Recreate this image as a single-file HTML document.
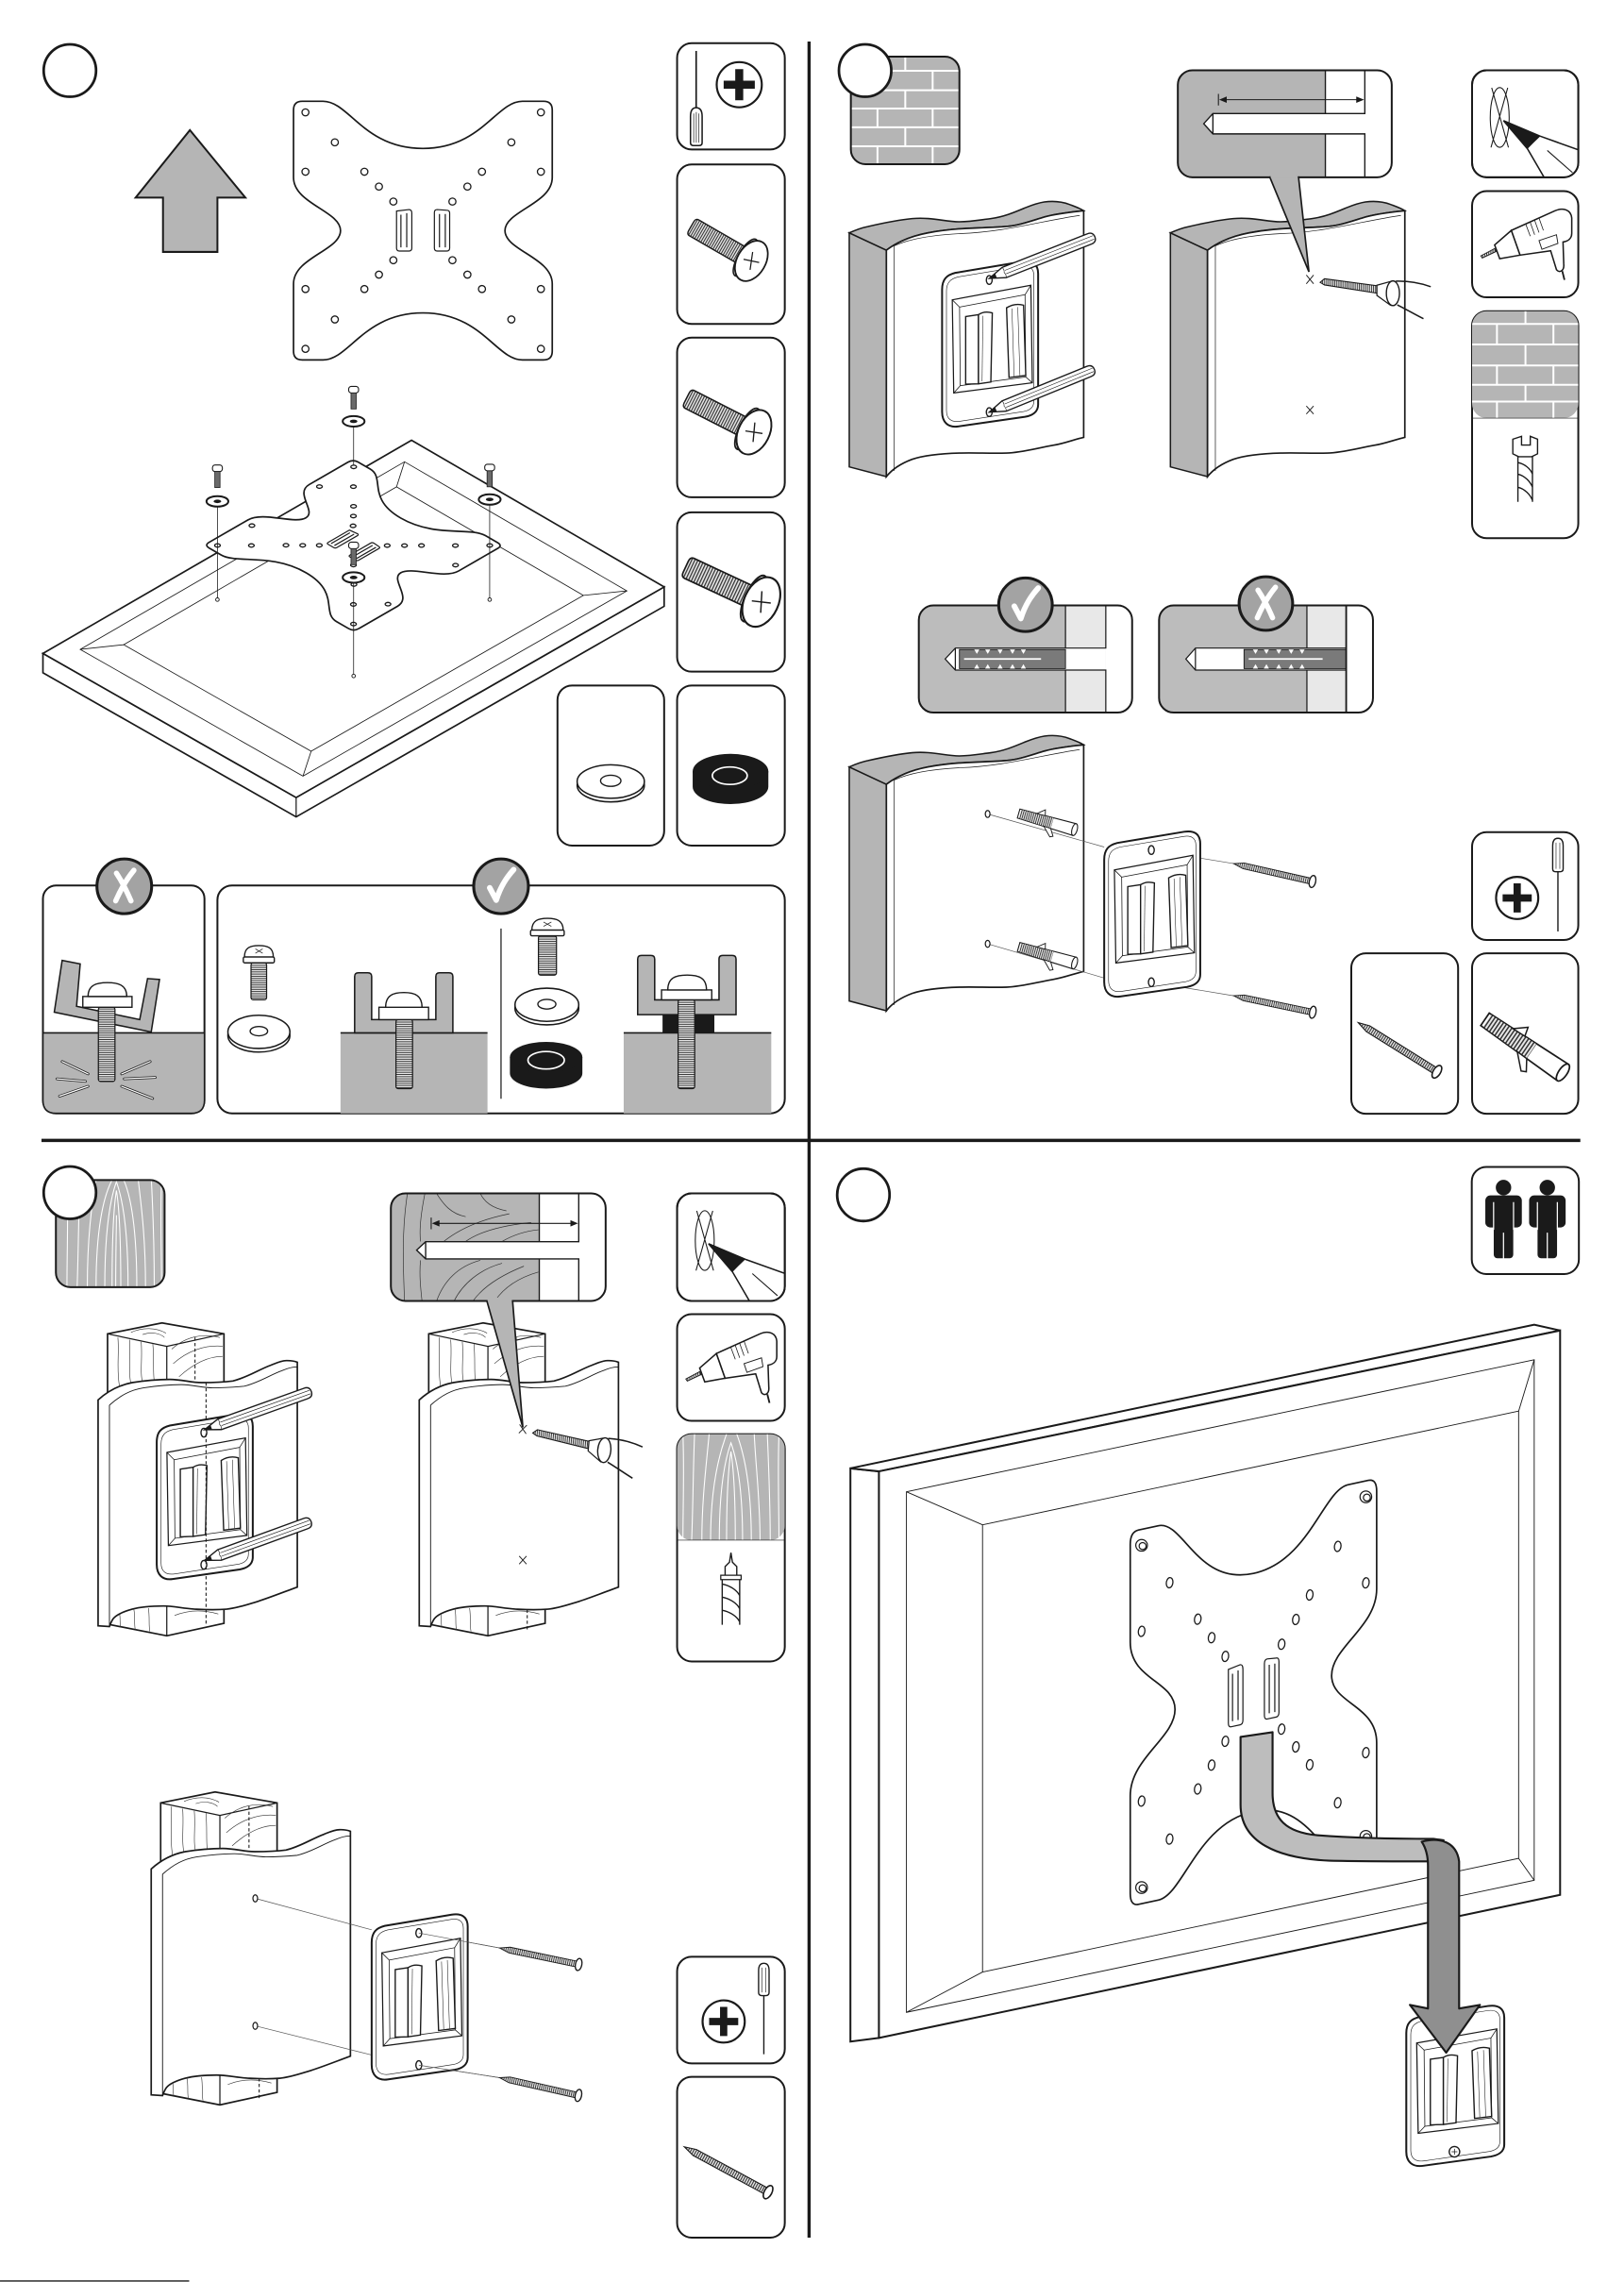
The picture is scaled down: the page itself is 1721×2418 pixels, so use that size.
<!DOCTYPE html>
<html><head><meta charset="utf-8"><title>Mounting instructions</title>
<style>html,body{margin:0;padding:0;background:#fff}svg{display:block}</style>
</head><body>
<svg xmlns="http://www.w3.org/2000/svg" width="1721" height="2418" viewBox="0 0 1116 1568">
<defs>
<pattern id="ht" width="1.4" height="8" patternUnits="userSpaceOnUse"><rect width="1.4" height="8" fill="#e6e6e6"/><rect width="0.6" height="8" fill="#333"/></pattern>
<pattern id="hh" width="8" height="1.5" patternUnits="userSpaceOnUse"><rect width="8" height="1.5" fill="#e6e6e6"/><rect width="8" height="0.6" fill="#333"/></pattern>
<clipPath id="ic"><rect x="0" y="0" width="73.5" height="73.5" rx="10"/></clipPath>

<g id="plate">
<path vector-effect="non-scaling-stroke" d="M207.7,69.6 L222,69.6 C240,69.6 250,102 290.6,102 C331,102 341,69.6 359,69.6 L373.5,69.6 Q379.5,69.6 379.5,75.6 L379.5,122 C379.5,140 347,145 347,158.5 C347,172 379.5,177 379.5,195 L379.5,241.3 Q379.5,247.3 373.5,247.3 L359,247.3 C341,247.3 331,215 290.6,215 C250,215 240,247.3 222,247.3 L207.7,247.3 Q201.7,247.3 201.7,241.3 L201.7,195 C201.7,177 234,172 234,158.5 C234,145 201.7,140 201.7,122 L201.7,75.6 Q201.7,69.6 207.7,69.6 Z" fill="#fff" stroke="#1a1a1a" stroke-width="1.7"/>
<g fill="#fff" stroke="#1a1a1a" stroke-width="1.3">
<circle vector-effect="non-scaling-stroke" cx="209.9" cy="77.2" r="2.4"/><circle vector-effect="non-scaling-stroke" cx="371.7" cy="77.2" r="2.4"/>
<circle vector-effect="non-scaling-stroke" cx="230.1" cy="97.8" r="2.4"/><circle vector-effect="non-scaling-stroke" cx="351.4" cy="97.8" r="2.4"/>
<circle vector-effect="non-scaling-stroke" cx="209.9" cy="118" r="2.4"/><circle vector-effect="non-scaling-stroke" cx="371.7" cy="118" r="2.4"/>
<circle vector-effect="non-scaling-stroke" cx="250.4" cy="118" r="2.4"/><circle vector-effect="non-scaling-stroke" cx="331.2" cy="118" r="2.4"/>
<circle vector-effect="non-scaling-stroke" cx="260.4" cy="128.2" r="2.4"/><circle vector-effect="non-scaling-stroke" cx="321.2" cy="128.2" r="2.4"/>
<circle vector-effect="non-scaling-stroke" cx="270.3" cy="138.5" r="2.4"/><circle vector-effect="non-scaling-stroke" cx="310.9" cy="138.5" r="2.4"/>
<circle vector-effect="non-scaling-stroke" cx="270.3" cy="178.8" r="2.4"/><circle vector-effect="non-scaling-stroke" cx="310.9" cy="178.8" r="2.4"/>
<circle vector-effect="non-scaling-stroke" cx="260.4" cy="188.7" r="2.4"/><circle vector-effect="non-scaling-stroke" cx="321.2" cy="188.7" r="2.4"/>
<circle vector-effect="non-scaling-stroke" cx="250.4" cy="198.6" r="2.4"/><circle vector-effect="non-scaling-stroke" cx="331.2" cy="198.6" r="2.4"/>
<circle vector-effect="non-scaling-stroke" cx="209.9" cy="198.6" r="2.4"/><circle vector-effect="non-scaling-stroke" cx="371.7" cy="198.6" r="2.4"/>
<circle vector-effect="non-scaling-stroke" cx="230.1" cy="219.5" r="2.4"/><circle vector-effect="non-scaling-stroke" cx="351.4" cy="219.5" r="2.4"/>
<circle vector-effect="non-scaling-stroke" cx="209.9" cy="239.7" r="2.4"/><circle vector-effect="non-scaling-stroke" cx="371.7" cy="239.7" r="2.4"/>
</g>
<g fill="#fff" stroke="#1a1a1a" stroke-width="1.2">
<path vector-effect="non-scaling-stroke" d="M272.5,145 L281,144 Q283,144 283,146.5 L283,170.5 Q283,172.5 281,172.5 L274.5,172.5 Q272.5,172.5 272.5,170.5 Z"/>
<path vector-effect="non-scaling-stroke" d="M275.5,147.5 L275.5,170 M279.5,146.5 L279.5,170" fill="none"/>
<path vector-effect="non-scaling-stroke" d="M298.5,146 Q298.5,144 300.5,144 L307,144.5 Q309,144.5 309,146.5 L309,170.5 Q309,172.5 307,172.5 L300.5,172.5 Q298.5,172.5 298.5,170.5 Z"/>
<path vector-effect="non-scaling-stroke" d="M302,147 L302,170 M306,147 L306,170" fill="none"/>
</g>
</g>

<g id="wall">
<path d="M583.6,160 L609.1,171.9 L609.1,327.5 L583.6,320.8 Z" fill="#b5b5b5" stroke="#1a1a1a" stroke-width="1"/>
<path d="M583.6,160 C588,158 592,156.5 596.6,155.6 C608,153 618,151 626.8,150.2 C640,149 650,152.5 659.3,152.4 C668,152.3 674,151 680.9,150.2 C690,149 698,145.5 704.7,142.7 C709,141 713,139.5 717.6,138.8 C725,137.8 731,139 735,140.5 C739,142 742,143 744.7,144.8 C738,145.5 727,146.5 717.6,149.1 C708,152 700,155 691.7,155.6 C683,156.2 677,156.5 670,156.7 C660,157 648,158 637.6,160 C627,162 617,166 609.1,171.9 Z" fill="#b5b5b5" stroke="#1a1a1a" stroke-width="1"/>
<path d="M609.1,171.9 C617,166 627,162 637.6,160 C648,158 660,157 670,156.7 C677,156.5 683,156.2 691.7,155.6 C700,155 708,152 717.6,149.1 C727,146.5 738,145.5 744.7,144.8 L744.7,300.5 C738,302 732,304.5 724.1,305.9 C712,308 702,311 691.7,311.3 C680,311.6 670,311 659.3,311.3 C648,311.6 636,312.5 626.8,315.6 C619,318.5 613,322.5 609.1,327.5 Z" fill="#fff" stroke="#1a1a1a" stroke-width="1.1"/>
<path d="M614.5,169 L614.5,323.5 M614.5,169 C625,164 640,161.5 660,160.5 C690,159.5 715,152 742,148" fill="none" stroke="#1a1a1a" stroke-width="0.45"/>
</g>

<g id="bracket">
<path d="M0,20 C0,13 3,10 9,8.5 L55,0.8 C62,-0.3 66,2.5 66,9 L66,99 C66,104 62,106.5 57,107.4 L11,114 C4,115 0,111 0,104 Z" fill="#fff" stroke="#1a1a1a" stroke-width="1.3"/>
<path d="M3,21 C3,15 6,12.5 11,11.3 L55,4 C60,3.2 63,5.5 63,10 L63,97 C63,101 60,103 56,103.8 L12,110.5 C6,111.3 3,108.5 3,103 Z" fill="none" stroke="#1a1a1a" stroke-width="0.4"/>
<path d="M7,27 L61,17 L62,84 L8,91 Z" fill="#fff" stroke="#1a1a1a" stroke-width="0.8"/>
<path d="M12,32 L57,23.5 L57.5,80 L12.5,86 Z" fill="none" stroke="#1a1a1a" stroke-width="0.5"/>
<path d="M7,27 L12,32 M61,17 L57,23.5 M62,84 L57.5,80 M8,91 L12.5,86" stroke="#1a1a1a" stroke-width="0.5"/>
<path d="M16.2,38.5 L25,37.2 L25,84.7 L16.2,85 Z" fill="#fff" stroke="#1a1a1a" stroke-width="0.9"/>
<path d="M25,37.2 Q29,34.5 34.5,36 L33.5,83.5 L25,84.7 Z" fill="#fff" stroke="#1a1a1a" stroke-width="0.9"/>
<path d="M28,38 L27.5,83" stroke="#1a1a1a" stroke-width="0.35"/>
<path d="M44.3,32.5 Q50,29 56,30.7 L57.5,79 L46,80.4 Z" fill="#fff" stroke="#1a1a1a" stroke-width="0.9"/>
<path d="M48,33 L49.5,79.5 M52,32 L53.5,79" stroke="#1a1a1a" stroke-width="0.35"/>
<ellipse cx="32.4" cy="13.4" rx="2" ry="3" fill="#fff" stroke="#1a1a1a" stroke-width="0.9"/>
<ellipse cx="32.4" cy="104.2" rx="2" ry="3" fill="#fff" stroke="#1a1a1a" stroke-width="0.9"/>
</g>

<g id="pencil">
<path d="M0,0 L11,-3.8 L74,-3.8 Q78,-3.8 78,0 Q78,3.8 74,3.8 L11,3.8 Z" fill="#fff" stroke="#1a1a1a" stroke-width="0.9"/>
<path d="M11,-3.8 Q12,-2 11,0 Q12,2 11,3.8 M12,-1.2 L77,-1.2 M12,1.3 L77,1.3" fill="none" stroke="#1a1a1a" stroke-width="0.4"/>
<path d="M0,0 L5,-1.8 L5,1.8 Z" fill="#1a1a1a"/>
</g>

<g id="wscrew">
<path d="M0,0 L7,-2 L54,-2 L54,2 L7,2 Z" fill="url(#ht)" stroke="#1a1a1a" stroke-width="0.6"/>
<ellipse cx="55.5" cy="0" rx="2.2" ry="4.2" fill="#fff" stroke="#1a1a1a" stroke-width="0.9"/>
</g>

<g id="dowel">
<path d="M0,-3.2 L40,-4.2 L40,4.2 L0,3.2 Z" fill="#fff" stroke="#1a1a1a" stroke-width="0.7"/>
<path d="M1,-3 L24,-3.6 L24,3.6 L1,3 Z" fill="url(#ht)"/>
<path d="M19,3.6 L25,9.5 L27,8.5 L24,3.8 Z M12,-3.4 L17,-7.5 L18,-3.6 Z" fill="#fff" stroke="#1a1a1a" stroke-width="0.6"/>
<ellipse cx="40" cy="0" rx="1.8" ry="4.2" fill="#fff" stroke="#1a1a1a" stroke-width="0.7"/>
</g>

<g id="micon">
<path d="M1,-5.5 L34,-5.5 L34,5.5 L1,5.5 Q-1,5.5 -1,3 L-1,-3 Q-1,-5.5 1,-5.5 Z" fill="url(#ht)" stroke="#1a1a1a" stroke-width="0.8"/>
<ellipse cx="36.5" cy="0" rx="4.5" ry="12.5" fill="#fff" stroke="#1a1a1a" stroke-width="0.9"/>
<ellipse cx="40.5" cy="0" rx="8.5" ry="13" fill="#fff" stroke="#1a1a1a" stroke-width="1"/>
<path d="M38.5,-5 L42.5,5 M36,1.5 L45,-1.5" stroke="#1a1a1a" stroke-width="0.7"/>
</g>

<g id="mscrew">
<rect x="-3.4" y="-5" width="6.8" height="4.5" rx="1.8" fill="#fff" stroke="#1a1a1a" stroke-width="0.7"/>
<rect x="-1.8" y="-0.5" width="3.6" height="11" fill="#6a6a6a" stroke="#1a1a1a" stroke-width="0.5"/>
</g>

<g id="drill">
<path d="M-2.5,-3 L2.5,3 M-2.5,3 L2.5,-3" stroke="#1a1a1a" stroke-width="0.6"/>
<path d="M7,2 L10,-0.5 L47,4.5 L46.5,9.5 L10,3.8 Z" fill="url(#ht)" stroke="#1a1a1a" stroke-width="0.7"/>
<path d="M46,4 L55,1.5 L55,17.5 L46,11 Z" fill="#fff" stroke="#1a1a1a" stroke-width="0.8"/>
<ellipse cx="57" cy="9.5" rx="4.5" ry="8.5" fill="#fff" stroke="#1a1a1a" stroke-width="0.9"/>
<path d="M59,1.2 C68,1 76,2.5 83,5 M60,17.5 C67,21 72,24 78,27" fill="none" stroke="#1a1a1a" stroke-width="1"/>
</g>

<g id="postboard">
<path d="M73.9,916.5 L111.3,909 L153.9,916.5 L153.9,1115.4 L114.6,1124 L73.9,1116 Z" fill="#fff" stroke="#1a1a1a" stroke-width="1.1"/>
<path d="M73.9,916.5 L114.6,925.1 L153.9,916.5 M114.6,925.1 L114.6,1124" fill="none" stroke="#1a1a1a" stroke-width="0.8"/>
<g fill="none" stroke="#333" stroke-width="0.4">
<path d="M81,919 C82,930 80,940 82,952 M89,920.5 C90,932 88,942 90,951 M97,922 C98,933 96,943 98,950 M105,923.5 C106,934 105,943 106,949"/>
<path d="M118,927 C128,918 140,916 151,919 M119,937 C129,928 141,924 153,925 M123,946 C133,937 143,932 153,932"/>
<path d="M90,915.5 C98,912 107,912 114,916 M98,917 C104,915 110,916 113,919"/>
<path d="M82,1108 C83,1112 82,1115 83,1118 M92,1106 C93,1111 92,1116 93,1120 M102,1105 C103,1112 102,1117 103,1121 M120,1110 C130,1106 140,1106 150,1109"/>
</g>
<path d="M67.4,961.9 C75,955 83,951.5 90.8,950 C100,948.5 108,947.8 116.7,947.8 C125,947.8 131,950 138.4,950 C146,950 153,949.8 160,948.9 C170,946.5 178,941 186,938.1 C190,936.5 193,935 196.7,934.9 C200,934.8 202.5,935.3 204.3,936 L204.3,1090.5 C196,1093.5 186,1097.5 177.3,1100.3 C170,1102.5 163,1105 155.7,1105.7 C146,1106.5 140,1106 133,1105.6 C125,1105 119,1103.5 112.4,1103.5 C105,1103.5 97,1104 90.8,1105.7 C85,1107.3 80,1109.5 77.8,1112.2 C76.5,1114 75.8,1116 75.2,1117.6 L67.4,1117.1 Z" fill="#fff" stroke="#1a1a1a" stroke-width="1.1"/>
<path d="M75.2,965.5 C83,958.5 90,955 98.6,953.6 C108,952.2 116,951.4 124.5,951.4 C132,951.4 139,953.6 146.2,953.6 C154,953.6 160,953.2 167.8,952.5 C178,950 186,944.5 194,941.7 C198,940 201,939 204.3,939.3 M75.2,965.5 L75.2,1117.6" fill="none" stroke="#1a1a1a" stroke-width="0.6"/>
</g>
</defs>

<rect width="1116" height="1568" fill="#fff"/>

<!-- dividers -->
<path d="M556,28.5 L556,1537.5" stroke="#1a1a1a" stroke-width="2.2"/>
<path d="M28.5,783.6 L1086,783.6" stroke="#1a1a1a" stroke-width="2.2"/>
<path d="M0,1567.3 L130,1567.3" stroke="#1a1a1a" stroke-width="0.9"/>

<!-- ================= PANEL 1 ================= -->
<circle cx="48" cy="48.5" r="18" fill="#fff" stroke="#1a1a1a" stroke-width="1.8"/>
<polygon points="130.5,89.4 168.6,135.8 149.4,135.8 149.4,173.1 112,173.1 112,135.8 93.2,135.8" fill="#b5b5b5" stroke="#1a1a1a" stroke-width="1.3"/>
<use href="#plate"/>

<!-- TV flat -->
<path d="M29.5,449 L203.5,548 L456.4,403.3 L456.4,416.6 L203.5,561.3 L29.5,462.3 Z" fill="#fff" stroke="#1a1a1a" stroke-width="1.1"/>
<path d="M203.5,548 L203.5,561.3" stroke="#1a1a1a" stroke-width="0.8"/>
<path d="M29.5,449 L282.8,302.5 L456.4,403.3 L203.5,548 Z" fill="#fff" stroke="#1a1a1a" stroke-width="1.1"/>
<g fill="none" stroke="#1a1a1a" stroke-width="0.55">
<path d="M55.1,446.2 L278,317.3 L430.8,406 L208.2,533.3 Z"/>
<path d="M85,443 L272.5,334.5 L400.9,409.1 L213.8,516.2 Z"/>
<path d="M55.1,446.2 L85,443 M278,317.3 L272.5,334.5 M430.8,406 L400.9,409.1 M208.2,533.3 L213.8,516.2"/>
</g>
<use href="#plate" transform="matrix(0.5779,0.3337,-0.576,0.3323,166.2,225.1)"/>
<g stroke="#1a1a1a" stroke-width="0.5" fill="none">
<path d="M243,293 L243,320 M149.4,348 L149.4,411 M336.5,347 L336.5,411 M243,400.5 L243,463"/>
</g>
<g fill="#fff" stroke="#1a1a1a" stroke-width="0.6">
<circle cx="149.4" cy="412" r="1.2"/><circle cx="336.5" cy="412" r="1.2"/><circle cx="243" cy="464.5" r="1.2"/>
</g>
<use href="#mscrew" transform="translate(243,270.5)"/>
<use href="#mscrew" transform="translate(149.4,324.5)"/>
<use href="#mscrew" transform="translate(336.5,324)"/>
<use href="#mscrew" transform="translate(243,377.5)"/>
<g fill="#fff" stroke="#1a1a1a" stroke-width="1.3">
<ellipse cx="243" cy="289.5" rx="7.5" ry="3.6"/><ellipse cx="149.4" cy="344.5" rx="7.5" ry="3.6"/>
<ellipse cx="336.5" cy="343.2" rx="7.5" ry="3.6"/><ellipse cx="243" cy="396.8" rx="7.5" ry="3.6"/>
</g>
<g fill="#1a1a1a">
<ellipse cx="243" cy="289.5" rx="2.6" ry="1.2"/><ellipse cx="149.4" cy="344.5" rx="2.6" ry="1.2"/>
<ellipse cx="336.5" cy="343.2" rx="2.6" ry="1.2"/><ellipse cx="243" cy="396.8" rx="2.6" ry="1.2"/>
</g>

<!-- right column boxes panel 1 -->
<g fill="#fff" stroke="#1a1a1a" stroke-width="1.3">
<rect x="465.3" y="29.7" width="74" height="73" rx="10"/>
<rect x="465.3" y="113" width="74" height="109.6" rx="10"/>
<rect x="465.3" y="232" width="74" height="109.7" rx="10"/>
<rect x="465.3" y="352" width="74" height="109.5" rx="10"/>
<rect x="383.1" y="471" width="73.3" height="110" rx="10"/>
<rect x="465.3" y="471" width="74" height="110" rx="10"/>
</g>
<path d="M478.4,35 L478.4,74" stroke="#1a1a1a" stroke-width="1.1"/>
<path d="M474.5,80 Q474.5,74 478.4,74 Q482.5,74 482.5,80 L482.5,98 Q482.5,100 480.5,100 L476.5,100 Q474.5,100 474.5,98 Z" fill="#fff" stroke="#1a1a1a" stroke-width="1"/>
<path d="M476.7,78 L476.7,98 M478.5,77 L478.5,98 M480.3,78 L480.3,98" stroke="#1a1a1a" stroke-width="0.45"/>
<circle cx="508" cy="58.2" r="15.5" fill="#fff" stroke="#1a1a1a" stroke-width="1.4"/>
<path d="M508,47.5 L508,68.9 M497.3,58.2 L518.7,58.2" stroke="#1a1a1a" stroke-width="5.5"/>
<use href="#micon" transform="translate(476,156) rotate(30) scale(1.15)"/>
<use href="#micon" transform="translate(473,274) rotate(27) scale(1.25)"/>
<use href="#micon" transform="translate(472.5,390) rotate(25) scale(1.38)"/>
<!-- washer icon -->
<ellipse cx="419.7" cy="539.5" rx="23.1" ry="11.5" fill="#fff" stroke="#1a1a1a" stroke-width="1"/>
<ellipse cx="419.7" cy="537" rx="23.1" ry="11.5" fill="#fff" stroke="#1a1a1a" stroke-width="1"/>
<ellipse cx="419.7" cy="536.5" rx="7" ry="3.8" fill="#fff" stroke="#1a1a1a" stroke-width="0.9"/>
<!-- black washer icon -->
<path d="M476,530 L476,540.5 A26,12 0 0 0 528,540.5 L528,530 Z" fill="#1a1a1a"/>
<ellipse cx="502" cy="530" rx="26" ry="12" fill="#1a1a1a"/>
<ellipse cx="501.5" cy="533" rx="12" ry="6" fill="#1a1a1a" stroke="#fff" stroke-width="1.1"/>

<!-- wash comparison -->
<rect x="29.5" y="608.4" width="111" height="156.6" rx="9" fill="#fff" stroke="#1a1a1a" stroke-width="1.3"/>
<path d="M29.5,709.7 L140.5,709.7 L140.5,756 Q140.5,765 131.5,765 L38.5,765 Q29.5,765 29.5,756 Z" fill="#b5b5b5" stroke="#1a1a1a" stroke-width="1"/>
<g stroke="#1a1a1a" stroke-width="1.8" stroke-linecap="round" fill="none">
<path d="M42.7,729.4 L60.5,737.9 M39.1,741.3 L58.7,743 M40.9,753.2 L60.5,746.4 M83.6,737.9 L103.2,729.4 M85.4,741.3 L106.7,740.3 M83.6,746.4 L104.9,754.8"/>
</g>
<g stroke="#fff" stroke-width="0.8" stroke-linecap="round" fill="none">
<path d="M42.7,729.4 L60.5,737.9 M39.1,741.3 L58.7,743 M40.9,753.2 L60.5,746.4 M83.6,737.9 L103.2,729.4 M85.4,741.3 L106.7,740.3 M83.6,746.4 L104.9,754.8"/>
</g>
<path d="M42.7,659.9 L55.1,662.3 L52.6,691.4 L96,700.6 L101.4,672.4 L109.6,673 L103.9,709.1 L37.3,695.5 Z" fill="#b5b5b5" stroke="#1a1a1a" stroke-width="1"/>
<rect x="67.6" y="692.1" width="11.4" height="51" rx="1.5" fill="url(#hh)" stroke="#1a1a1a" stroke-width="0.8"/>
<rect x="56.9" y="684.7" width="33.8" height="7.4" fill="#fff" stroke="#1a1a1a" stroke-width="0.9"/>
<path d="M60.5,684.7 C60.5,677 66,675.2 73.8,675.2 C81.6,675.2 87.1,677 87.1,684.7 Z" fill="#fff" stroke="#1a1a1a" stroke-width="0.9"/>

<rect x="149.4" y="608.4" width="389.9" height="156.6" rx="10" fill="#fff" stroke="#1a1a1a" stroke-width="1.3"/>
<path d="M344.3,638 L344.3,755" stroke="#1a1a1a" stroke-width="0.8"/>
<!-- screw 1 + washer -->
<rect x="172.5" y="661.6" width="10.7" height="25.4" rx="1.5" fill="url(#hh)" stroke="#1a1a1a" stroke-width="0.8"/>
<rect x="167.2" y="657.5" width="21.3" height="4.1" rx="1" fill="#fff" stroke="#1a1a1a" stroke-width="0.9"/>
<path d="M168,657.5 C168,651 172,649.7 177.9,649.7 C183.8,649.7 187.8,651 187.8,657.5 Z" fill="#fff" stroke="#1a1a1a" stroke-width="0.9"/>
<path d="M175.5,652 L180.5,655 M180.5,652 L175.5,655" stroke="#1a1a1a" stroke-width="0.5"/>
<ellipse cx="177.9" cy="711.5" rx="21.3" ry="11.4" fill="#fff" stroke="#1a1a1a" stroke-width="1"/>
<ellipse cx="177.9" cy="709" rx="21.3" ry="11.4" fill="#fff" stroke="#1a1a1a" stroke-width="1"/>
<ellipse cx="177.9" cy="708.5" rx="6" ry="3.2" fill="#fff" stroke="#1a1a1a" stroke-width="0.9"/>
<!-- mounted 1 -->
<rect x="234" y="709.7" width="101" height="55.3" fill="#b5b5b5"/>
<path d="M234,709.7 L335,709.7" stroke="#1a1a1a" stroke-width="1"/>
<path d="M243.7,671 Q243.7,668.4 246.3,668.4 L252.8,668.4 Q255.4,668.4 255.4,671 L255.4,700.6 L299.5,700.6 L299.5,671 Q299.5,668.4 302,668.4 L308.6,668.4 Q311.2,668.4 311.2,671 L311.2,709.7 L243.7,709.7 Z" fill="#b5b5b5" stroke="#1a1a1a" stroke-width="1"/>
<rect x="272.1" y="700.6" width="11.4" height="47.4" rx="1.5" fill="url(#hh)" stroke="#1a1a1a" stroke-width="0.8"/>
<rect x="260.4" y="692.1" width="34.1" height="8.5" fill="#fff" stroke="#1a1a1a" stroke-width="0.9"/>
<path d="M265,692.1 C265,684 270,682 277.5,682 C285,682 290,684 290,692.1 Z" fill="#fff" stroke="#1a1a1a" stroke-width="0.9"/>
<!-- screw 2 + washer + spacer -->
<rect x="370" y="643" width="12.4" height="27" rx="1.5" fill="url(#hh)" stroke="#1a1a1a" stroke-width="0.8"/>
<rect x="364.6" y="639" width="23.1" height="4" rx="1" fill="#fff" stroke="#1a1a1a" stroke-width="0.9"/>
<path d="M365.5,639 C365.5,632.5 370,631 376.2,631 C382.4,631 387,632.5 387,639 Z" fill="#fff" stroke="#1a1a1a" stroke-width="0.9"/>
<path d="M373.5,633.5 L378.9,636.5 M378.9,633.5 L373.5,636.5" stroke="#1a1a1a" stroke-width="0.5"/>
<ellipse cx="375.8" cy="692.8" rx="21.9" ry="11.4" fill="#fff" stroke="#1a1a1a" stroke-width="1"/>
<ellipse cx="375.8" cy="690.4" rx="21.9" ry="11.4" fill="#fff" stroke="#1a1a1a" stroke-width="1"/>
<ellipse cx="375.8" cy="690" rx="6.2" ry="3.3" fill="#fff" stroke="#1a1a1a" stroke-width="0.9"/>
<path d="M350.4,726.4 L350.4,737.5 A24.9,10.5 0 0 0 400.2,737.5 L400.2,726.4 Z" fill="#1a1a1a"/>
<ellipse cx="375.3" cy="726.4" rx="24.9" ry="10.5" fill="#1a1a1a"/>
<ellipse cx="375.3" cy="728.5" rx="12.5" ry="6" fill="#1a1a1a" stroke="#fff" stroke-width="1.1"/>
<!-- mounted 2 -->
<rect x="428.6" y="709.7" width="101.4" height="55.3" fill="#b5b5b5"/>
<path d="M428.6,709.7 L530,709.7" stroke="#1a1a1a" stroke-width="1"/>
<rect x="455.3" y="697.2" width="35.6" height="12.5" fill="#1a1a1a"/>
<path d="M438.2,659 Q438.2,656.5 440.8,656.5 L447.3,656.5 Q449.9,656.5 449.9,659 L449.9,687 L494.1,687 L494.1,659 Q494.1,656.5 496.6,656.5 L503.2,656.5 Q505.8,656.5 505.8,659 L505.8,697.2 L438.2,697.2 Z" fill="#b5b5b5" stroke="#1a1a1a" stroke-width="1"/>
<rect x="466" y="687" width="11.4" height="61" rx="1.5" fill="url(#hh)" stroke="#1a1a1a" stroke-width="0.8"/>
<rect x="454.6" y="680.2" width="34.5" height="6.8" fill="#fff" stroke="#1a1a1a" stroke-width="0.9"/>
<path d="M458.9,680.2 C458.9,672 464,670 472.2,670 C480.4,670 485.5,672 485.5,680.2 Z" fill="#fff" stroke="#1a1a1a" stroke-width="0.9"/>
<!-- badges -->
<circle cx="85.4" cy="609" r="18.8" fill="#a3a3a3" stroke="#1a1a1a" stroke-width="2"/>
<path d="M79.5,619 C83,611 87,604 92,598 M80,600 C84,606 87,612 90,619" fill="none" stroke="#fff" stroke-width="3.6" stroke-linecap="round"/>
<circle cx="344.3" cy="609" r="18.8" fill="#a3a3a3" stroke="#1a1a1a" stroke-width="2"/>
<path d="M336.5,610 L341,618.5 C344,609 348,603 353,597.5" fill="none" stroke="#fff" stroke-width="3.8" stroke-linecap="round" stroke-linejoin="round"/>

<!-- ================= PANEL 2 ================= -->
<g>
<rect x="584.7" y="38.9" width="74.6" height="73.9" rx="10" fill="#b5b5b5"/>
<g stroke="#fff" stroke-width="1.3" fill="none">
<path d="M584.7,48.6 L659.3,48.6 M584.7,62 L659.3,62 M584.7,74.6 L659.3,74.6 M584.7,87.5 L659.3,87.5 M584.7,100.5 L659.3,100.5"/>
<path d="M622.1,38.9 V48.6 M640.9,48.6 V62 M603,48.6 V62 M622.1,62 V74.6 M603,74.6 V87.5 M640.9,74.6 V87.5 M622.1,87.5 V100.5 M603,100.5 V112.8 M640.9,100.5 V112.8"/>
</g>
<rect x="584.7" y="38.9" width="74.6" height="73.9" rx="10" fill="none" stroke="#1a1a1a" stroke-width="1.3"/>
</g>
<circle cx="594.5" cy="48.5" r="18" fill="#fff" stroke="#1a1a1a" stroke-width="1.8"/>

<!-- wall 1 -->
<use href="#wall"/>
<use href="#bracket" transform="translate(647.4,179)"/>
<use href="#pencil" transform="translate(679.8,191.3) rotate(-21.5)"/>
<use href="#pencil" transform="translate(679.8,283.2) rotate(-22.2)"/>

<!-- wall 2 -->
<use href="#wall" transform="translate(220.7,0)"/>
<use href="#drill" transform="translate(900.2,192)"/>
<path d="M897.7,279 L902.7,284.5 M897.7,284.5 L902.7,279" stroke="#1a1a1a" stroke-width="0.6"/>

<!-- callout panel 2 -->
<clipPath id="cp2"><rect x="809.4" y="48.3" width="147" height="73.5" rx="10"/></clipPath>
<g clip-path="url(#cp2)">
<rect x="809.4" y="48.3" width="147" height="73.5" fill="#b5b5b5"/>
<rect x="910.8" y="48.3" width="47" height="73.5" fill="#fff"/>
<path d="M827.2,85 L833.5,78 L937.9,78 L937.9,92 L833.5,92 Z" fill="#fff"/>
<path d="M937.9,48.3 L937.9,78 L833.5,78 L827.2,85 L833.5,92 L937.9,92 L937.9,121.8 M910.8,48.3 L910.8,78 M910.8,92 L910.8,121.8 M833.5,78 L833.5,92" fill="none" stroke="#1a1a1a" stroke-width="0.9"/>
<path d="M840,68.5 L935,68.5 M837.3,64.5 L837.3,72.5" stroke="#1a1a1a" stroke-width="0.7"/>
<path d="M837.8,68.5 L843,66.3 L843,70.7 Z M937.4,68.5 L932,66.3 L932,70.7 Z" fill="#1a1a1a"/>
</g>
<rect x="809.4" y="48.3" width="147" height="73.5" rx="10" fill="none" stroke="#1a1a1a" stroke-width="1.3"/>
<path d="M872.4,121.2 L899.5,186.8 L892.3,121.2" fill="#b5b5b5" stroke="#1a1a1a" stroke-width="1.1"/>
<rect x="873.4" y="119.5" width="18" height="3" fill="#b5b5b5"/>

<!-- icons panel 2 -->
<g fill="#fff" stroke="#1a1a1a" stroke-width="1.3">
<rect x="1011.6" y="48.3" width="73" height="73.5" rx="10"/>
<rect x="1011.6" y="131.3" width="73" height="73" rx="10"/>
<rect x="1011.6" y="213.8" width="73" height="156" rx="10"/>
</g>
<g transform="translate(1011.6,48.3)">
<g clip-path="url(#ic)">
<ellipse cx="19" cy="32.4" rx="6.5" ry="20.5" fill="none" stroke="#1a1a1a" stroke-width="0.7"/>
<path d="M13.5,12 L25,53 M24.5,12 L13,53" stroke="#1a1a1a" stroke-width="0.7"/>
<path d="M21.6,34.6 L46.9,45.3 L88,60 L88,95 L62,95 L38.1,54 Z" fill="#fff" stroke="#1a1a1a" stroke-width="1"/>
<path d="M21.6,34.6 L46.9,45.3 L42,50 L38.1,54 Z" fill="#1a1a1a"/>
<path d="M51.7,55.1 L69,70.3" stroke="#1a1a1a" stroke-width="0.7"/>
</g>
<rect x="0" y="0" width="73" height="73.5" rx="10" fill="none" stroke="#1a1a1a" stroke-width="1.3"/>
</g>
<g transform="translate(1011.6,131.3)">
<path d="M6,44.5 L15.5,39.5 L16.5,41.5 L7,46 Z" fill="url(#ht)" stroke="#1a1a1a" stroke-width="0.6"/>
<path d="M15.5,37 L27,27 L33,44 L19,46.5 Z" fill="#fff" stroke="#1a1a1a" stroke-width="1"/>
<path d="M27,27 L57,13.5 C63,11 68,13 68.5,18.5 L68.5,29 C68.5,32.5 66,34.5 62.5,35 L63,50 C63.5,55 60,56.5 58,54 L54,41 L33,44 Z" fill="#fff" stroke="#1a1a1a" stroke-width="1"/>
<path d="M62,55 L63.5,61" stroke="#1a1a1a" stroke-width="1.2"/>
<path d="M37,23 L40,31 M40,21.5 L43,30 M43,20 L46,28.5 M46,18.5 L49,27" stroke="#1a1a1a" stroke-width="0.5"/>
<path d="M46,34 L58,30 L59,36 L48,40 Z" fill="none" stroke="#1a1a1a" stroke-width="0.6"/>
</g>
<g transform="translate(1011.6,213.8)">
<clipPath id="bk"><rect x="0" y="0" width="73" height="73.5" rx="10"/></clipPath>
<g clip-path="url(#bk)">
<rect x="0" y="0" width="73" height="73.5" fill="#b5b5b5"/>
<g stroke="#fff" stroke-width="1.3" fill="none">
<path d="M0,8.8 H73 M0,22.9 H73 M0,37.3 H73 M0,50.6 H73 M0,62.1 H73"/>
<path d="M36.7,0 V8.8 M17.1,8.8 V22.9 M55.9,8.8 V22.9 M36.7,22.9 V37.3 M17.1,37.3 V50.6 M55.9,37.3 V50.6 M36.7,50.6 V62.1 M17.1,62.1 V73.5 M55.9,62.1 V73.5"/>
</g>
</g>
<path d="M0,73.5 H73" stroke="#1a1a1a" stroke-width="0.4"/>
<path d="M28,88 L34,86 L34,92 L40,92 L40,86 L45,88 L45,98 L41,100 L32,100 L28,98 Z" fill="#fff" stroke="#1a1a1a" stroke-width="0.9"/>
<path d="M31.5,100 L31.5,131 M41.5,100 L41.5,131 M31.5,104 C36,105 40,108 41.5,112 M31.5,112 C36,113 40,117 41.5,121 M31.5,121 C36,122 40,126 41.5,130" fill="none" stroke="#1a1a1a" stroke-width="0.9"/>
</g>

<!-- anchor comparison -->
<clipPath id="ca1"><rect x="631.4" y="416" width="146.6" height="73.6" rx="10"/></clipPath>
<g clip-path="url(#ca1)">
<rect x="631.4" y="416" width="147" height="74" fill="#bcbcbc"/>
<rect x="732.2" y="416" width="27.7" height="74" fill="#e8e8e8"/>
<rect x="759.9" y="416" width="20" height="74" fill="#fff"/>
<path d="M649.5,452.8 L656.5,445.3 L759.9,445.3 L759.9,460.4 L656.5,460.4 Z" fill="#fff"/>
<path d="M659.3,446.3 L732.2,446.3 L732.2,459.4 L659.3,459.4 Z" fill="#7a7a7a" stroke="#1a1a1a" stroke-width="0.6"/>
<g fill="#fff"><path d="M669.5,446.3 L673,446.3 L671.3,449.3 Z M677,446.3 L680.5,446.3 L678.8,449.3 Z M685.5,446.3 L689,446.3 L687.3,449.3 Z M694,446.3 L697.5,446.3 L695.8,449.3 Z M701.5,446.3 L705,446.3 L703.3,449.3 Z"/>
<path d="M669.5,459.4 L673,459.4 L671.3,456.4 Z M677,459.4 L680.5,459.4 L678.8,456.4 Z M685.5,459.4 L689,459.4 L687.3,456.4 Z M694,459.4 L697.5,459.4 L695.8,456.4 Z M701.5,459.4 L705,459.4 L703.3,456.4 Z"/></g>
<path d="M662.5,452.8 L715.4,452.8" stroke="#fff" stroke-width="1.1"/>
<path d="M732.2,416 V445.3 M732.2,460.4 V490 M759.9,416 V445.3 L656.5,445.3 L649.5,452.8 L656.5,460.4 L759.9,460.4 V490 M656.5,445.3 V460.4" fill="none" stroke="#1a1a1a" stroke-width="0.8"/>
</g>
<rect x="631.4" y="416" width="146.6" height="73.6" rx="10" fill="none" stroke="#1a1a1a" stroke-width="1.3"/>
<circle cx="704.7" cy="415.5" r="18.4" fill="#a3a3a3" stroke="#1a1a1a" stroke-width="2"/>
<path d="M697,416.5 L701.5,425 C704.5,415.5 708.5,409.5 713.5,404" fill="none" stroke="#fff" stroke-width="3.8" stroke-linecap="round" stroke-linejoin="round"/>

<clipPath id="ca2"><rect x="796.5" y="416" width="147" height="73.6" rx="10"/></clipPath>
<g clip-path="url(#ca2)">
<rect x="796.5" y="416" width="147" height="74" fill="#bcbcbc"/>
<rect x="898.1" y="416" width="27" height="74" fill="#e8e8e8"/>
<rect x="925.1" y="416" width="20" height="74" fill="#fff"/>
<path d="M814.9,452.8 L821.5,445.3 L925.1,445.3 L925.1,460.4 L821.5,460.4 Z" fill="#fff"/>
<path d="M854.9,446.3 L925.1,446.3 L925.1,459.4 L854.9,459.4 Z" fill="#7a7a7a" stroke="#1a1a1a" stroke-width="0.6"/>
<g fill="#fff"><path d="M861,446.3 L864.5,446.3 L862.8,449.3 Z M868.5,446.3 L872,446.3 L870.3,449.3 Z M877,446.3 L880.5,446.3 L878.8,449.3 Z M885.5,446.3 L889,446.3 L887.3,449.3 Z M893,446.3 L896.5,446.3 L894.8,449.3 Z"/>
<path d="M861,459.4 L864.5,459.4 L862.8,456.4 Z M868.5,459.4 L872,459.4 L870.3,456.4 Z M877,459.4 L880.5,459.4 L878.8,456.4 Z M885.5,459.4 L889,459.4 L887.3,456.4 Z M893,459.4 L896.5,459.4 L894.8,456.4 Z"/></g>
<path d="M858.1,452.8 L908.9,452.8" stroke="#fff" stroke-width="1.1"/>
<path d="M898.1,416 V445.3 M898.1,460.4 V490 M925.1,445.3 L821.5,445.3 L814.9,452.8 L821.5,460.4 L925.1,460.4 M821.5,445.3 V460.4" fill="none" stroke="#1a1a1a" stroke-width="0.8"/>
<path d="M925.1,416 V490" stroke="#1a1a1a" stroke-width="1.2"/>
</g>
<rect x="796.5" y="416" width="147" height="73.6" rx="10" fill="none" stroke="#1a1a1a" stroke-width="1.3"/>
<circle cx="869.9" cy="414.7" r="18.4" fill="#a3a3a3" stroke="#1a1a1a" stroke-width="2"/>
<path d="M864,424.5 C867.5,416.5 871.5,409.5 876.5,403.5 M864.5,405.5 C868.5,411.5 871.5,417.5 874.5,424.5" fill="none" stroke="#fff" stroke-width="3.6" stroke-linecap="round"/>

<!-- wall 3 -->
<use href="#wall" transform="translate(0,367)"/>
<g stroke="#555" stroke-width="0.45" fill="none">
<path d="M678.7,559.3 L758.8,582 M791.2,584.1 L847.8,593.4 M678.7,648.5 L758.8,672 M791.2,674.9 L847.8,684.2"/>
</g>
<g fill="#fff" stroke="#1a1a1a" stroke-width="0.8">
<ellipse cx="678.7" cy="559.3" rx="1.6" ry="2.4"/><ellipse cx="678.7" cy="648.5" rx="1.6" ry="2.4"/>
</g>
<use href="#dowel" transform="translate(700,559) rotate(16)"/>
<use href="#dowel" transform="translate(700,650.7) rotate(16)"/>
<use href="#bracket" transform="translate(758.8,570.7)"/>
<use href="#wscrew" transform="translate(847.8,593.4) rotate(12.8)"/>
<use href="#wscrew" transform="translate(847.8,684.2) rotate(11.8)"/>

<!-- icons bottom panel 2 -->
<g fill="#fff" stroke="#1a1a1a" stroke-width="1.3">
<rect x="1011.6" y="571.8" width="73" height="74.1" rx="10"/>
<rect x="928.6" y="655" width="73.4" height="110.3" rx="10"/>
<rect x="1011.6" y="655" width="73" height="110.3" rx="10"/>
</g>
<circle cx="1042.6" cy="617" r="14.5" fill="#fff" stroke="#1a1a1a" stroke-width="1.4"/>
<path d="M1042.6,607 L1042.6,627 M1032.6,617 L1052.6,617" stroke="#1a1a1a" stroke-width="5"/>
<path d="M1070.6,598 L1070.6,640" stroke="#1a1a1a" stroke-width="0.9"/>
<path d="M1067,581 Q1067,576 1070.6,576 Q1074.2,576 1074.2,581 L1074.2,597 Q1074.2,599 1072,599 L1069,599 Q1067,599 1067,597 Z" fill="#fff" stroke="#1a1a1a" stroke-width="0.9"/>
<path d="M1069.3,579 L1069.3,597 M1071.9,579 L1071.9,597" stroke="#1a1a1a" stroke-width="0.4"/>
<use href="#wscrew" transform="translate(933.3,702.6) rotate(32) scale(1.15)"/>
<use href="#dowel" transform="translate(1020.5,700.4) rotate(34.3) scale(1.62)"/>

<!-- ================= PANEL 3 ================= -->
<g>
<clipPath id="wd"><rect x="38.4" y="810.8" width="74.7" height="73.6" rx="10"/></clipPath>
<g clip-path="url(#wd)">
<rect x="38.4" y="810.8" width="74.7" height="73.6" fill="#b5b5b5"/>
<g fill="none" stroke="#fff" stroke-width="0.7">
<path d="M77,884.4 C77,850 78,830 80,818 C82,830 83,850 83,884.4"/>
<path d="M72,884.4 C72,848 75,826 80,812 C85,826 88,848 88,884.4"/>
<path d="M66,884.4 C66,845 71,822 77,810.8 M94,884.4 C94,845 90,822 85,810.8"/>
<path d="M60,884.4 C60,850 63,828 66,810.8 M100,884.4 C100,850 97,828 95,810.8"/>
<path d="M53,884.4 C54,855 54,830 55,810.8 M106,884.4 C106,855 105,830 104,810.8"/>
<path d="M46,884.4 C46,860 47,835 46,810.8 M111,884.4 C111,860 110,835 111,810.8"/>
<path d="M79.5,884.4 C79.5,860 80,845 80,835"/>
</g>
</g>
<rect x="38.4" y="810.8" width="74.7" height="73.6" rx="10" fill="none" stroke="#1a1a1a" stroke-width="1.3"/>
</g>
<circle cx="48" cy="819.5" r="18" fill="#fff" stroke="#1a1a1a" stroke-width="1.8"/>

<!-- post 1 -->
<use href="#postboard"/>
<path d="M134,919 L134,948 M141.6,950 L141.6,1116" stroke="#1a1a1a" stroke-width="0.7" stroke-dasharray="2.2,1.6"/>
<use href="#bracket" transform="translate(107.7,971)"/>
<path d="M141.6,985 L141.6,1080" stroke="#1a1a1a" stroke-width="0.7" stroke-dasharray="2.2,1.6"/>
<use href="#pencil" transform="translate(140.5,982.4) rotate(-19.7)"/>
<use href="#pencil" transform="translate(140.5,1072.2) rotate(-20)"/>

<!-- post 2 -->
<use href="#postboard" transform="translate(220.7,0)"/>
<path d="M354.7,919 L354.7,948 M362.3,1106 L362.3,1120" stroke="#1a1a1a" stroke-width="0.7" stroke-dasharray="2.2,1.6"/>
<use href="#drill" transform="translate(359.3,982) rotate(5)"/>
<path d="M356.8,1069.2 L361.8,1074.7 M356.8,1074.7 L361.8,1069.2" stroke="#1a1a1a" stroke-width="0.6"/>

<!-- callout panel 3 -->
<clipPath id="cp3"><rect x="268.6" y="820" width="147.6" height="73.9" rx="10"/></clipPath>
<g clip-path="url(#cp3)">
<rect x="268.6" y="820" width="148" height="74" fill="#b5b5b5"/>
<g fill="none" stroke="#333" stroke-width="0.45">
<path d="M280,820 C276,845 277,870 278,894 M292,820 C289,835 288,845 289,853 M289,866 C288,875 289,885 290,894"/>
<path d="M300,894 C305,880 315,870 330,866 M312,894 C318,882 330,872 345,868 M325,894 C332,884 345,876 360,870 M340,894 C346,885 356,878 370,874"/>
<path d="M305,853 C315,845 330,838 350,834 M320,853 C330,846 345,842 365,840 M345,853 C352,849 360,846 370,845"/>
<path d="M300,820 C305,828 310,834 320,836 M330,820 C333,826 338,830 348,832"/>
</g>
<rect x="370.6" y="820" width="46" height="74" fill="#fff"/>
<path d="M286.3,859 L292.5,853.2 L397.7,853.2 L397.7,865 L292.5,865 Z" fill="#fff"/>
<path d="M397.7,820 L397.7,853.2 L292.5,853.2 L286.3,859 L292.5,865 L397.7,865 L397.7,894 M370.6,820 L370.6,853.2 M370.6,865 L370.6,894 M292.5,853.2 L292.5,865" fill="none" stroke="#1a1a1a" stroke-width="0.9"/>
<path d="M298,840.6 L395,840.6 M296.3,836.6 L296.3,844.6" stroke="#1a1a1a" stroke-width="0.7"/>
<path d="M296.8,840.6 L302,838.4 L302,842.8 Z M397.2,840.6 L392,838.4 L392,842.8 Z" fill="#1a1a1a"/>
</g>
<rect x="268.6" y="820" width="147.6" height="73.9" rx="10" fill="none" stroke="#1a1a1a" stroke-width="1.3"/>
<path d="M334.4,893.3 L359.3,980.8 L352.2,893.3" fill="#b5b5b5" stroke="#1a1a1a" stroke-width="1.1"/>
<rect x="335.4" y="891.6" width="15.8" height="3" fill="#b5b5b5"/>

<!-- icons panel 3 -->
<g fill="#fff" stroke="#1a1a1a" stroke-width="1.3">
<rect x="465.3" y="820" width="74" height="73.9" rx="10"/>
<rect x="465.3" y="903" width="74" height="73.3" rx="10"/>
<rect x="465.3" y="985.4" width="74" height="156.2" rx="10"/>
</g>
<g transform="translate(465.3,820)">
<g clip-path="url(#ic)">
<ellipse cx="19" cy="32.4" rx="6.5" ry="20.5" fill="none" stroke="#1a1a1a" stroke-width="0.7"/>
<path d="M13.5,12 L25,53 M24.5,12 L13,53" stroke="#1a1a1a" stroke-width="0.7"/>
<path d="M21.6,34.6 L46.9,45.3 L88,60 L88,95 L62,95 L38.1,54 Z" fill="#fff" stroke="#1a1a1a" stroke-width="1"/>
<path d="M21.6,34.6 L46.9,45.3 L42,50 L38.1,54 Z" fill="#1a1a1a"/>
<path d="M51.7,55.1 L69,70.3" stroke="#1a1a1a" stroke-width="0.7"/>
</g>
<rect x="0" y="0" width="74" height="73.9" rx="10" fill="none" stroke="#1a1a1a" stroke-width="1.3"/>
</g>
<g transform="translate(465.3,903)">
<path d="M6,44.5 L15.5,39.5 L16.5,41.5 L7,46 Z" fill="url(#ht)" stroke="#1a1a1a" stroke-width="0.6"/>
<path d="M15.5,37 L27,27 L33,44 L19,46.5 Z" fill="#fff" stroke="#1a1a1a" stroke-width="1"/>
<path d="M27,27 L57,13.5 C63,11 68,13 68.5,18.5 L68.5,29 C68.5,32.5 66,34.5 62.5,35 L63,50 C63.5,55 60,56.5 58,54 L54,41 L33,44 Z" fill="#fff" stroke="#1a1a1a" stroke-width="1"/>
<path d="M62,55 L63.5,61" stroke="#1a1a1a" stroke-width="1.2"/>
<path d="M37,23 L40,31 M40,21.5 L43,30 M43,20 L46,28.5 M46,18.5 L49,27" stroke="#1a1a1a" stroke-width="0.5"/>
<path d="M46,34 L58,30 L59,36 L48,40 Z" fill="none" stroke="#1a1a1a" stroke-width="0.6"/>
</g>
<g transform="translate(465.3,985.4)">
<clipPath id="wd2"><rect x="0" y="0" width="74" height="72.9" rx="10"/></clipPath>
<g clip-path="url(#wd2)">
<rect x="0" y="0" width="74" height="72.9" fill="#b5b5b5"/>
<g fill="none" stroke="#fff" stroke-width="0.7">
<path d="M34,72.9 C34,45 35,25 37,12 C39,25 40,45 40,72.9"/>
<path d="M29,72.9 C29,42 32,20 37,6 C42,20 45,42 45,72.9"/>
<path d="M23,72.9 C23,40 28,16 34,0 M51,72.9 C51,40 47,16 41,0"/>
<path d="M17,72.9 C17,45 20,22 22,0 M57,72.9 C57,45 54,22 53,0"/>
<path d="M10,72.9 C11,48 11,24 12,0 M64,72.9 C64,48 63,24 62,0"/>
<path d="M4,72.9 C4,50 5,25 4,0 M70,72.9 C70,50 69,25 70,0"/>
</g>
</g>
<path d="M0,72.9 H74" stroke="#1a1a1a" stroke-width="0.4"/>
<path d="M37,81.5 L36,88 L33,91 L33,97 L41,97 L41,91 L38,88 Z" fill="#fff" stroke="#1a1a1a" stroke-width="0.9"/>
<path d="M30,97 L44,97 L44,100 L30,100 Z" fill="#fff" stroke="#1a1a1a" stroke-width="0.8"/>
<path d="M31,100 L31,131 M43,100 L43,131 M31,103 C36,104 41,107 43,111 M31,112 C36,113 41,116 43,120 M31,121 C36,122 41,125 43,129" fill="none" stroke="#1a1a1a" stroke-width="0.9"/>
</g>

<!-- bottom post assembly -->
<use href="#postboard" transform="translate(36.5,322.3)"/>
<path d="M171.1,1241 L171.1,1270 M178.1,1428 L178.1,1442" stroke="#1a1a1a" stroke-width="0.7" stroke-dasharray="2.2,1.6"/>
<g stroke="#555" stroke-width="0.45" fill="none">
<path d="M175.4,1304.4 L255.4,1326 M287.8,1328.2 L343.3,1338.5 M175.4,1392 L255.4,1412 M287.8,1419 L343.3,1427.6"/>
</g>
<g fill="#fff" stroke="#1a1a1a" stroke-width="0.8">
<ellipse cx="175.4" cy="1304.4" rx="1.6" ry="2.4"/><ellipse cx="175.4" cy="1392" rx="1.6" ry="2.4"/>
</g>
<use href="#bracket" transform="translate(255.4,1314.8)"/>
<path d="M287.8,1328.2 L343.3,1338.5 M287.8,1419 L343.3,1427.6" stroke="#555" stroke-width="0.45"/>
<use href="#wscrew" transform="translate(343.3,1338.5) rotate(11.8)"/>
<use href="#wscrew" transform="translate(343.3,1427.6) rotate(12.7)"/>

<g fill="#fff" stroke="#1a1a1a" stroke-width="1.3">
<rect x="465.3" y="1344.5" width="74" height="73.3" rx="10"/>
<rect x="465.3" y="1427" width="74" height="110.5" rx="10"/>
</g>
<circle cx="497.3" cy="1389" r="14.5" fill="#fff" stroke="#1a1a1a" stroke-width="1.4"/>
<path d="M497.3,1379 L497.3,1399 M487.3,1389 L507.3,1389" stroke="#1a1a1a" stroke-width="5"/>
<path d="M524.9,1371 L524.9,1411.5" stroke="#1a1a1a" stroke-width="0.9"/>
<path d="M521.3,1354 Q521.3,1349 524.9,1349 Q528.5,1349 528.5,1354 L528.5,1369 Q528.5,1371.2 526.3,1371.2 L523.5,1371.2 Q521.3,1371.2 521.3,1369 Z" fill="#fff" stroke="#1a1a1a" stroke-width="0.9"/>
<path d="M523.6,1352 L523.6,1369 M526.2,1352 L526.2,1369" stroke="#1a1a1a" stroke-width="0.4"/>
<use href="#wscrew" transform="translate(470.2,1475.1) rotate(28.4) scale(1.18)"/>

<!-- ================= PANEL 4 ================= -->
<circle cx="593.3" cy="821" r="18" fill="#fff" stroke="#1a1a1a" stroke-width="1.8"/>
<rect x="1011.4" y="801.8" width="73.6" height="73.6" rx="10" fill="#fff" stroke="#1a1a1a" stroke-width="1.3"/>
<g fill="#1a1a1a">
<circle cx="1033.2" cy="816" r="5.3"/>
<rect x="1020.7" y="821.4" width="25.1" height="22" rx="3.5"/>
<rect x="1026.5" y="835" width="13.4" height="29.6" rx="2.5"/>
<circle cx="1063.3" cy="816" r="5.3"/>
<rect x="1050.8" y="821.4" width="25.1" height="22" rx="3.5"/>
<rect x="1056.6" y="835" width="13.4" height="29.6" rx="2.5"/>
</g>
<g stroke="#fff" stroke-width="0.8">
<path d="M1026.4,826 L1026.4,845 M1040.1,826 L1040.1,845 M1033.2,847 L1033.2,866 M1056.5,826 L1056.5,845 M1070.2,826 L1070.2,845 M1063.3,847 L1063.3,866"/>
</g>

<!-- TV -->
<path d="M584.4,1008.9 L604,1011 L604,1400.3 L584.4,1402.8 Z" fill="#fff" stroke="#1a1a1a" stroke-width="1.3"/>
<path d="M584.4,1008.9 L1054.3,910.2 L1072.1,914.2 L604,1011 Z" fill="#fff" stroke="#1a1a1a" stroke-width="1.3"/>
<path d="M604,1011 L1072.1,914.2 L1072.1,1302 L604,1400.3 Z" fill="#fff" stroke="#1a1a1a" stroke-width="1.3"/>
<g fill="none" stroke="#1a1a1a" stroke-width="0.6">
<path d="M622.9,1025 L1054.3,934.3 L1054.3,1292 L622.9,1382.7 Z"/>
<path d="M675.2,1047.7 L1043.6,969.6 L1043.6,1276.9 L675.2,1355 Z"/>
<path d="M622.9,1025 L675.2,1047.7 M1054.3,934.3 L1043.6,969.6 M1054.3,1292 L1043.6,1276.9 M622.9,1382.7 L675.2,1355"/>
</g>
<use href="#plate" transform="matrix(0.9524,-0.2058,0,1.4474,584.6,993.3)"/>
<g fill="#fff" stroke="#1a1a1a" stroke-width="0.8">
<circle cx="784.5" cy="1061.8" r="4"/><circle cx="938.6" cy="1028.5" r="4"/>
<circle cx="784.5" cy="1297" r="4"/><circle cx="938.6" cy="1261.8" r="4"/>
<circle cx="785.2" cy="1062.3" r="2.4"/><circle cx="939.3" cy="1029" r="2.4"/>
<circle cx="785.2" cy="1297.5" r="2.4"/><circle cx="939.3" cy="1262.3" r="2.4"/>
</g>
<use href="#bracket" transform="translate(966.4,1377.6) scale(1.02,0.97)"/>
<circle cx="999.5" cy="1478.5" r="3.6" fill="#fff" stroke="#1a1a1a" stroke-width="0.9"/>
<path d="M997.5,1478.5 L1001.5,1478.5 M999.5,1476.5 L999.5,1480.5" stroke="#1a1a1a" stroke-width="0.5"/>
<!-- ribbon arrow -->
<path d="M852.5,1193.5 L874.5,1190.2 L874.5,1232 C874.5,1250 884,1259 905,1261 C930,1263 960,1263.5 985,1263.5 L992,1264.5 L985,1279 C960,1279 935,1279 913.7,1278.5 C878,1277 852.5,1266 852.5,1240 Z" fill="#bdbdbd" stroke="#1a1a1a" stroke-width="1.4" stroke-linejoin="round"/>
<path d="M977,1265.5 C990,1262 1001,1266 1002.7,1279 L1002.7,1380.1 L1017,1377.6 L993.8,1410.4 L968.9,1377.6 L981.3,1380.1 L981.3,1282 C981.3,1275 980,1270 977,1265.5 Z" fill="#8f8f8f" stroke="#1a1a1a" stroke-width="1.4" stroke-linejoin="round"/>
</svg>
</body></html>
